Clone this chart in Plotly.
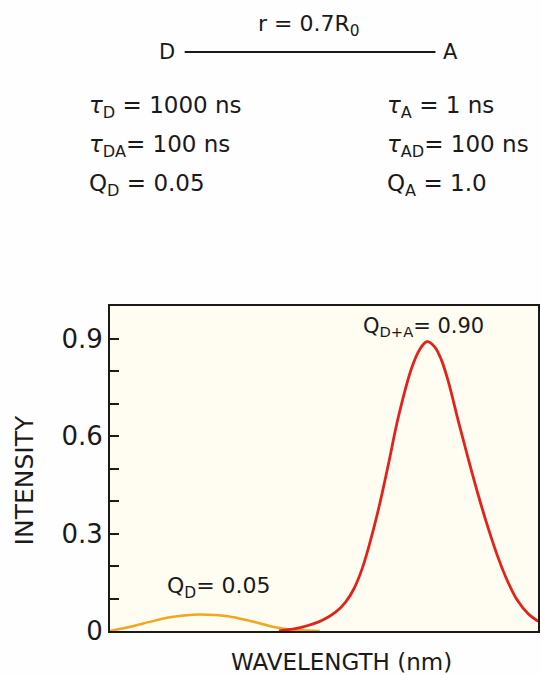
import plotly.graph_objects as go

# ---- data ----
donor_wavelength = [0, 5, 9.3, 14, 19.3, 23, 27.2, 31, 34.9, 38, 41, 45, 49]
donor_intensity = [0, 0.014, 0.028, 0.042, 0.050, 0.050, 0.046, 0.036, 0.024, 0.013, 0.006, 0.002, 0]

acceptor_wavelength = [39.5, 44.9, 49.6, 52.7, 55.0, 57.0, 59.0, 61.0, 63.0, 65.0, 67.4, 70.5, 72.3,
                       74, 75.8, 77.4, 79.1, 81.4, 83.7, 86, 88.4, 90.7, 93, 95.3, 97.7, 100]
acceptor_intensity = [0.0, 0.012, 0.033, 0.058, 0.088, 0.13, 0.195, 0.285, 0.39, 0.51, 0.66, 0.81, 0.865,
                      0.89, 0.875, 0.835, 0.765, 0.645, 0.53, 0.42, 0.315, 0.225, 0.15, 0.092, 0.053, 0.03]

y_tick_values = [0, 0.1, 0.2, 0.3, 0.4, 0.5, 0.6, 0.7, 0.8, 0.9]
y_tick_labels = ["0", "", "", "0.3", "", "", "0.6", "", "", "0.9"]

FONT = "DejaVu Sans"
INK = "#1a1a1a"
W, H = 541, 675
L, R, T, B = 110, 1, 306, 44
PW, PH = W - L - R, H - T - B


def px(x):
    return (x - L) / PW


def py(y):
    return (H - B - y) / PH


fig = go.Figure()
fig.add_trace(go.Scatter(x=donor_wavelength, y=donor_intensity, mode="lines",
                         line=dict(color="#f2a51e", width=2.5, shape="spline", smoothing=1.0),
                         hoverinfo="skip"))
fig.add_trace(go.Scatter(x=acceptor_wavelength, y=acceptor_intensity, mode="lines",
                         line=dict(color="#e2231c", width=2.8, shape="spline", smoothing=1.0),
                         hoverinfo="skip"))

ann = []


def text(x, y, s, size=21, xanchor="center", yanchor="middle", angle=0):
    ann.append(dict(x=px(x), y=py(y), xref="paper", yref="paper", text=s, showarrow=False,
                    xanchor=xanchor, yanchor=yanchor, textangle=angle,
                    font=dict(family=FONT, size=size, color=INK)))


text(310, 25, "r = 0.7R<sub>0</sub>", size=22)
text(167, 52, "D", size=21)
text(452, 52, "A", size=21)

text(87, 107, "<i>τ</i><sub>D</sub> = 1000 ns", size=23, xanchor="left")
text(87, 146, "<i>τ</i><sub>DA</sub>= 100 ns", size=23, xanchor="left")
text(87, 185, "Q<sub>D</sub> = 0.05", size=23, xanchor="left")
text(386, 107, "<i>τ</i><sub>A</sub> = 1 ns", size=23, xanchor="left")
text(386, 146, "<i>τ</i><sub>AD</sub>= 100 ns", size=23, xanchor="left")
text(386, 185, "Q<sub>A</sub> = 1.0", size=23, xanchor="left")

text(425, 327, "Q<sub>D+A</sub>= 0.90", size=21)
text(220, 587, "Q<sub>D</sub>= 0.05", size=22)

text(343, 662, "WAVELENGTH (nm)", size=23)
text(24, 480, "INTENSITY", size=25, angle=-90)

fig.update_layout(
    width=W, height=H,
    margin=dict(l=L, r=R, t=T, b=B, pad=0),
    paper_bgcolor="#fefefe",
    plot_bgcolor="#fffcf1",
    showlegend=False,
    annotations=ann,
    shapes=[dict(type="line", xref="paper", yref="paper",
                 x0=px(185), x1=px(437), y0=py(52), y1=py(52),
                 line=dict(color=INK, width=2))],
    font=dict(family=FONT, color=INK),
)
fig.update_xaxes(range=[0, 100], showgrid=False, zeroline=False, showticklabels=False,
                 ticks="", showline=True, linecolor=INK, linewidth=2, mirror=True)
fig.update_yaxes(range=[0, 1.0], showgrid=False, zeroline=False,
                 tickmode="array", tickvals=y_tick_values, ticktext=y_tick_labels,
                 ticks="inside", ticklen=9, tickwidth=2, tickcolor=INK,
                 tickfont=dict(family=FONT, size=26, color=INK), ticklabelstandoff=0,
                 showline=True, linecolor=INK, linewidth=2, mirror=True)

fig.write_html("out.html", config={"displayModeBar": False},
               post_script="document.body.style.margin='0';document.body.style.overflow='hidden';")
